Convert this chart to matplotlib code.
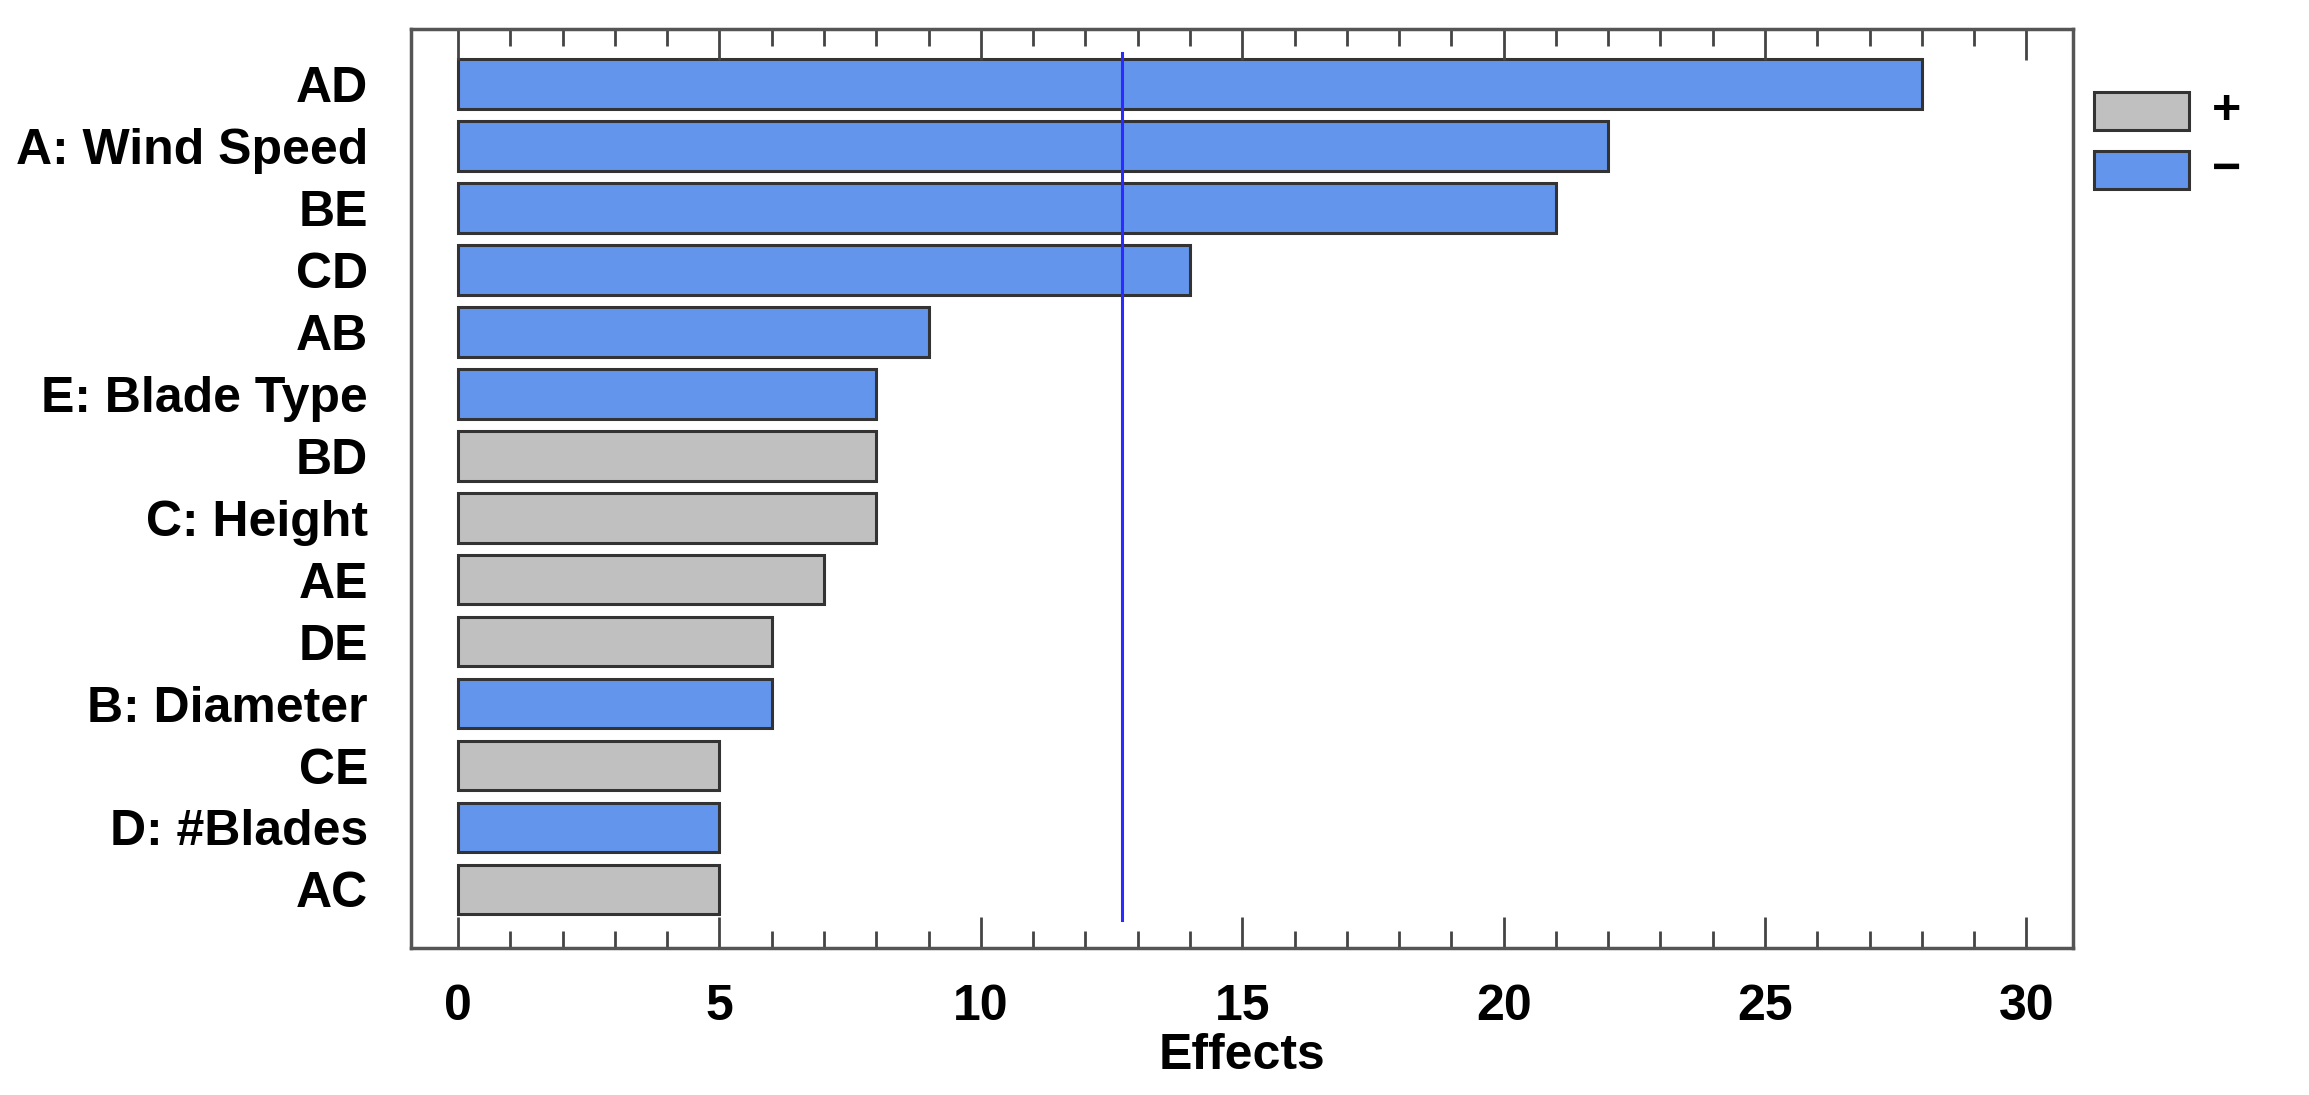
import numpy as np
import matplotlib.pyplot as plt
from matplotlib.patches import Rectangle

# données du diagramme de Pareto
facteurs = ["AD", "A: Wind Speed", "BE", "CD", "AB", "E: Blade Type", "BD",
            "C: Height", "AE", "DE", "B: Diameter", "CE", "D: #Blades", "AC"]
effets = [28, 22, 21, 14, 9, 8, 8, 8, 7, 6, 6, 5, 5, 5]
signes = ["-", "-", "-", "-", "-", "-", "+", "+", "+", "+", "-", "+", "-", "+"]
seuil = 12.7
legende_signes = ["+", "−"]

couleurs = {"+": "#c0c0c0", "-": "#6495ed"}
plt.rcParams['font.family'] = ['Liberation Sans', 'DejaVu Sans']
plt.rcParams['font.weight'] = 'bold'

fig = plt.figure(figsize=(23.09, 10.95), dpi=100)
ax = fig.add_axes([0.178, 0.134, 0.72, 0.8395])

y = np.arange(len(facteurs))
ax.barh(y, effets, height=0.8, color=[couleurs[s] for s in signes],
        edgecolor="#333333", linewidth=2.2)
ax.plot([seuil, seuil], [-0.5, len(facteurs) - 0.5], color="#2b2bff", linewidth=2.2)

ax.set_xlim(-0.9, 30.9)
ax.set_ylim(len(facteurs) - 0.05, -0.89)
ax.set_yticks(y)
ax.set_yticklabels(facteurs, fontsize=36, fontweight='bold')
ax.set_xticks(np.arange(0, 31, 5))
ax.set_xticks(np.arange(0, 31, 1), minor=True)
ax.tick_params(axis='x', which='both', direction='in', top=True, bottom=True,
               color="#444444", width=2)
ax.tick_params(axis='x', which='major', length=22, labelsize=36, pad=26)
ax.tick_params(axis='x', which='minor', length=12)
ax.tick_params(axis='y', length=0, pad=31)
for lab in ax.get_xticklabels():
    lab.set_fontweight('bold')
ax.set_xlabel("Effects", fontsize=36, fontweight='bold', labelpad=2)

for sp in ax.spines.values():
    sp.set_color("#555555")
    sp.set_linewidth(2.5)

# légende dessinée à la main
for i, (lab, c) in enumerate(zip(legende_signes, ["+", "-"])):
    y0 = 1 - (130 + i * 59) / 1095
    fig.patches.append(Rectangle((0.907, y0), 0.041, 38 / 1095, transform=fig.transFigure,
                                 facecolor=couleurs[c], edgecolor="#333333", linewidth=2.2))
    fig.text(0.958, y0 + 19 / 1095, lab, fontsize=36, fontweight='bold',
             va='center', ha='left')

plt.savefig("out.png", dpi=100)
